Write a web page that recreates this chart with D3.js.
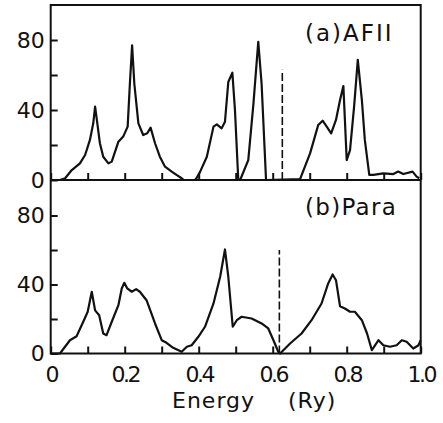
<!DOCTYPE html>
<html>
<head>
<meta charset="utf-8">
<script src="https://cdn.jsdelivr.net/npm/d3@7"></script>
<style>
  body { margin: 0; background: #fff; }
  svg { display: block; }
</style>
</head>
<body>
<div id="graph"></div>
<script>
// size of the page / svg
var w = 443;
var h = 423;

// (a) AFII density of states
var afEnergy = [0, 0.025, 0.039, 0.057, 0.079, 0.093, 0.106, 0.115, 0.12, 0.126, 0.133, 0.142,
                0.156, 0.165, 0.174, 0.183, 0.196, 0.208, 0.214, 0.22, 0.226, 0.237, 0.25, 0.261,
                0.27, 0.282, 0.295, 0.309, 0.327, 0.34, 0.354, 0.36, 0.39, 0.394, 0.404, 0.422,
                0.44, 0.449, 0.462, 0.471, 0.48, 0.491, 0.498, 0.507, 0.512, 0.534, 0.548, 0.561,
                0.57, 0.582, 0.674, 0.701, 0.714, 0.723, 0.735, 0.746, 0.758, 0.771, 0.782, 0.791,
                0.8, 0.809, 0.82, 0.83, 0.841, 0.849, 0.861, 0.872, 0.899, 0.926, 0.939, 0.953,
                0.978, 0.989, 0.996];
var afDos    = [0, 0, 1, 5.7, 9.5, 14.3, 22.9, 32.4, 41.9, 32.4, 21, 13.3,
                9.5, 10.5, 16.2, 21.9, 24.8, 30.5, 55, 77, 55, 32.4, 25.7, 26.7,
                29.9, 21, 13.3, 7.6, 4.8, 2.9, 1, 0, 0, 1, 4.8, 13.3,
                30.5, 31.8, 29.5, 33.3, 56, 61.3, 40, 0, 0, 11.4, 43.8, 79,
                55, 0, 0.5, 15.2, 24.8, 31.4, 33.9, 30.5, 26.7, 34.3, 45.7, 53.7,
                11.4, 17.1, 41.9, 68.6, 45.7, 22.9, 2.9, 2.9, 3.8, 3.4, 4.8, 3.4,
                4.8, 1.9, 1];

// (b) paramagnetic density of states
var paraEnergy = [0, 0.025, 0.052, 0.07, 0.088, 0.1, 0.111, 0.12, 0.131, 0.142, 0.151, 0.165,
                  0.183, 0.192, 0.199, 0.207, 0.219, 0.231, 0.241, 0.259, 0.282, 0.3, 0.313, 0.331,
                  0.354, 0.368, 0.381, 0.399, 0.417, 0.44, 0.458, 0.471, 0.48, 0.492, 0.503, 0.516,
                  0.543, 0.57, 0.588, 0.602, 0.615, 0.62, 0.647, 0.678, 0.705, 0.732, 0.75, 0.762,
                  0.771, 0.782, 0.795, 0.809, 0.822, 0.841, 0.855, 0.868, 0.886, 0.899, 0.917, 0.935,
                  0.949, 0.962, 0.98, 0.994, 1.0];
var paraDos    = [0, 0, 7.7, 10, 18.4, 24.2, 35.8, 25, 22.2, 11.6, 10.6, 18.4,
                  28, 37.7, 41, 37.7, 35.8, 37.3, 35.8, 30.9, 17.4, 7.7, 6.2, 3.3,
                  1, 3.9, 4.8, 9.7, 15.5, 29, 44.5, 60.3, 44.5, 15.5, 19.3, 21.3,
                  20.3, 17.4, 14.5, 7.7, 1, 0, 5.8, 11.6, 19.3, 29, 40.6, 45.8,
                  42.5, 27.4, 26.1, 24.2, 24.2, 19.3, 11.6, 1.9, 7.7, 4.8, 3.9, 4.8,
                  7.7, 6.8, 2.9, 4.8, 7.7];

// Fermi level (dashed line) for each panel: [energy, height]
var afFermi = [0.626, 63];
var paraFermi = [0.618, 60];

var xTicks = [0, 0.1, 0.2, 0.3, 0.4, 0.5, 0.6, 0.7, 0.8, 0.9, 1.0];
var xTickLabels = ["0", "", "0.2", "", "0.4", "", "0.6", "", "0.8", "", "1.0"];
var yTicks = [0, 20, 40, 60, 80];
var yTickLabels = ["0", "", "40", "", "80"];

var svg = d3.select("#graph")
            .append("svg")
            .attr("width", w)
            .attr("height", h);

svg.append("rect").attr("width", w).attr("height", h).attr("fill", "#fff");

var xScale = d3.scaleLinear().domain([0, 1]).range([50.7, 420.7]);

var panels = [
  { energy: afEnergy, dos: afDos, fermi: afFermi, label: "(a)AFII", spacing: 2,
    y: d3.scaleLinear().domain([0, 100]).range([180, 5]), labelY: 41 },
  { energy: paraEnergy, dos: paraDos, fermi: paraFermi, label: "(b)Para", spacing: 1.3,
    y: d3.scaleLinear().domain([0, 100]).range([353.5, 181]), labelY: 215 }
];

var font = "'DejaVu Sans', sans-serif";

panels.forEach(function(p, k) {
  var g = svg.append("g");

  // y ticks pointing inwards, labels on the left
  var yAxis = d3.axisLeft(p.y)
                .tickValues(yTicks)
                .tickSize(-7)
                .tickPadding(6)
                .tickFormat(function(d, i) { return yTickLabels[i]; });
  var ya = g.append("g")
            .attr("transform", "translate(" + xScale(0) + ",0)")
            .call(yAxis);
  ya.select(".domain").remove();
  ya.selectAll("line").attr("stroke", "#111").attr("stroke-width", 2);
  ya.selectAll("text")
    .attr("font-family", font)
    .attr("font-size", "22px")
    .attr("fill", "#111");

  // x ticks pointing up from the baseline, labels only under the lower panel
  var xAxis = d3.axisBottom(xScale)
                .tickValues(xTicks)
                .tickSize(-7)
                .tickPadding(13)
                .tickFormat(function(d, i) { return k == 1 ? xTickLabels[i] : ""; });
  var xa = g.append("g")
            .attr("transform", "translate(0," + p.y(0) + ")")
            .call(xAxis);
  xa.select(".domain").remove();
  xa.selectAll("line").attr("stroke", "#111").attr("stroke-width", 2);
  xa.selectAll("text")
    .attr("font-family", font)
    .attr("font-size", "22px")
    .attr("letter-spacing", "-2.5px")
    .attr("fill", "#111");

  // the curve
  var pts = p.energy.map(function(e, i) { return [e, p.dos[i]]; });
  var line = d3.line()
               .x(function(d) { return xScale(d[0]); })
               .y(function(d) { return p.y(d[1]); });
  g.append("path")
   .datum(pts)
   .attr("d", line)
   .attr("fill", "none")
   .attr("stroke", "#111")
   .attr("stroke-width", 2.2)
   .attr("stroke-linejoin", "round");

  // dashed Fermi level
  g.append("line")
   .attr("x1", xScale(p.fermi[0])).attr("x2", xScale(p.fermi[0]))
   .attr("y1", p.y(0)).attr("y2", p.y(p.fermi[1]))
   .attr("stroke", "#111")
   .attr("stroke-width", 1.6)
   .attr("stroke-dasharray", "8,3");

  // panel label
  g.append("text")
   .text(p.label)
   .attr("x", 305)
   .attr("y", p.labelY)
   .attr("font-family", font)
   .attr("font-size", "23px")
   .attr("letter-spacing", p.spacing + "px")
   .attr("fill", "#111");
});

// frame round both panels plus the shared middle line
svg.append("rect")
   .attr("x", xScale(0)).attr("y", panels[0].y(100))
   .attr("width", xScale(1) - xScale(0))
   .attr("height", panels[1].y(0) - panels[0].y(100))
   .attr("fill", "none")
   .attr("stroke", "#111")
   .attr("stroke-width", 2);
svg.append("line")
   .attr("x1", xScale(0)).attr("x2", xScale(1))
   .attr("y1", panels[0].y(0)).attr("y2", panels[0].y(0))
   .attr("stroke", "#111")
   .attr("stroke-width", 2);

// axis title
svg.append("text")
   .text("Energy")
   .attr("x", 172).attr("y", 408)
   .attr("font-family", font)
   .attr("font-size", "22px")
   .attr("letter-spacing", "1px")
   .attr("fill", "#111");
svg.append("text")
   .text("(Ry)")
   .attr("x", 288).attr("y", 408)
   .attr("font-family", font)
   .attr("font-size", "22px")
   .attr("letter-spacing", "1px")
   .attr("fill", "#111");
</script>
</body>
</html>
